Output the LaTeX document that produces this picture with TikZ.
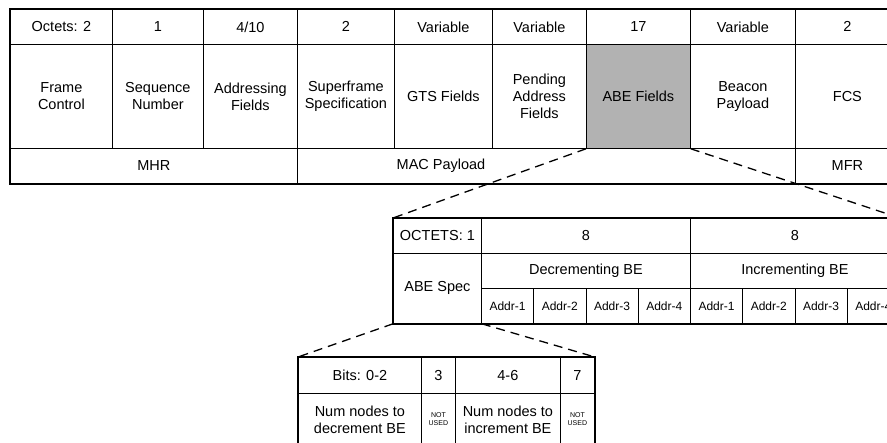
\documentclass[tikz,border=0pt]{standalone}
\usepackage{fontspec}
\setmainfont{Liberation Sans}

\begin{document}
\begin{tikzpicture}[x=1pt,y=-1pt,
		cell/.style={draw,line width=0.8pt,anchor=north west,inner sep=1pt,align=center,font=\fontsize{14.5}{17}\selectfont},
		small/.style={font=\fontsize{12}{14}\selectfont},
		tiny/.style={font=\fontsize{7}{8}\selectfont},
		frame/.style={line width=1.8pt},
		zoomline/.style={line width=1.3pt,dash pattern=on 9pt off 6pt}]
		\useasboundingbox (0,0) rectangle (887,443);
		\clip (0,0) rectangle (887,443);

		% MAC frame: octet row
		\node[cell,minimum width=102,minimum height=35] (h1) at (10,9) {Octets: 2};
		\node[cell,minimum width=91,minimum height=35] (h2) at (112,9) {1};
		\node[cell,minimum width=94,minimum height=35] (h3) at (203,9) {4/10};
		\node[cell,minimum width=97,minimum height=35] (h4) at (297,9) {2};
		\node[cell,minimum width=98,minimum height=35] (h5) at (394,9) {Variable};
		\node[cell,minimum width=94,minimum height=35] (h6) at (492,9) {Variable};
		\node[cell,minimum width=104,minimum height=35] (h7) at (586,9) {17};
		\node[cell,minimum width=105,minimum height=35] (h8) at (690,9) {Variable};
		\node[cell,minimum width=104,minimum height=35] (h9) at (795,9) {2};

		% MAC frame: field row
		\node[cell,minimum width=102,minimum height=104] (f1) at (10,44) {Frame\\Control};
		\node[cell,minimum width=91,minimum height=104] (f2) at (112,44) {Sequence\\Number};
		\node[cell,minimum width=94,minimum height=104] (f3) at (203,44) {Addressing\\Fields};
		\node[cell,minimum width=97,minimum height=104] (f4) at (297,44) {Superframe\\Specification};
		\node[cell,minimum width=98,minimum height=104] (f5) at (394,44) {GTS Fields};
		\node[cell,minimum width=94,minimum height=104] (f6) at (492,44) {Pending\\Address\\Fields};
		\node[cell,fill=gray!60,minimum width=104,minimum height=104] (f7) at (586,44) {ABE Fields};
		\node[cell,minimum width=105,minimum height=104] (f8) at (690,44) {Beacon\\Payload};
		\node[cell,minimum width=104,minimum height=104] (f9) at (795,44) {FCS};

		% MAC frame: parts
		\node[cell,minimum width=287,minimum height=35] (mhr) at (10,148) {MHR};
		\node[cell,minimum width=498,minimum height=35] (mac) at (297,148) {};
		\node[cell,draw=none,anchor=center] (mactext) at (441,165.5) {MAC Payload}; % left of the zoom line
		\node[cell,minimum width=104,minimum height=35] (mfr) at (795,148) {MFR};
		\draw[frame] (h1.north west) rectangle (mfr.south east);

		% ABE fields
		\node[cell,minimum width=88,minimum height=35] (oct) at (393,218) {OCTETS: 1};
		\node[cell,minimum width=209,minimum height=35] (dec8) at (481,218) {8};
		\node[cell,minimum width=209,minimum height=35] (inc8) at (690,218) {8};
		\node[cell,minimum width=88,minimum height=70] (spec) at (393,253) {ABE Spec};
		\node[cell,minimum width=209,minimum height=35] (decbe) at (481,253) {Decrementing BE};
		\node[cell,minimum width=209,minimum height=35] (incbe) at (690,253) {Incrementing BE};
		\foreach \i in {1,2,3,4} {
				\node[cell,small,minimum width=52.25,minimum height=35] (da\i) at (481+52.25*\i-52.25,288) {Addr-\i};
				\node[cell,small,minimum width=52.25,minimum height=35] (ia\i) at (690+52.25*\i-52.25,288) {Addr-\i};
			}
		\draw[frame] (oct.north west) rectangle (ia4.south east);

		% ABE spec bits
		\node[cell,minimum width=123,minimum height=36] (b1) at (298,357) {Bits: 0-2};
		\node[cell,minimum width=34,minimum height=36] (b2) at (421,357) {3};
		\node[cell,minimum width=105,minimum height=36] (b3) at (455,357) {4-6};
		\node[cell,minimum width=34,minimum height=36] (b4) at (560,357) {7};
		\node[cell,minimum width=123,minimum height=52] (n1) at (298,393) {Num nodes to\\decrement BE};
		\node[cell,tiny,minimum width=34,minimum height=52] (n2) at (421,393) {NOT\\USED};
		\node[cell,minimum width=105,minimum height=52] (n3) at (455,393) {Num nodes to\\increment BE};
		\node[cell,tiny,minimum width=34,minimum height=52] (n4) at (560,393) {NOT\\USED};
		\draw[frame] (b1.north west) rectangle (n4.south east);

		% Zoom lines
		\draw[zoomline] (f7.south west) -- (oct.north west);
		\draw[zoomline] (f7.south east) -- (inc8.north east);
		\draw[zoomline] (spec.south west) -- (b1.north west);
		\draw[zoomline] (spec.south east) -- (b4.north east);

	\end{tikzpicture}
\end{document}
